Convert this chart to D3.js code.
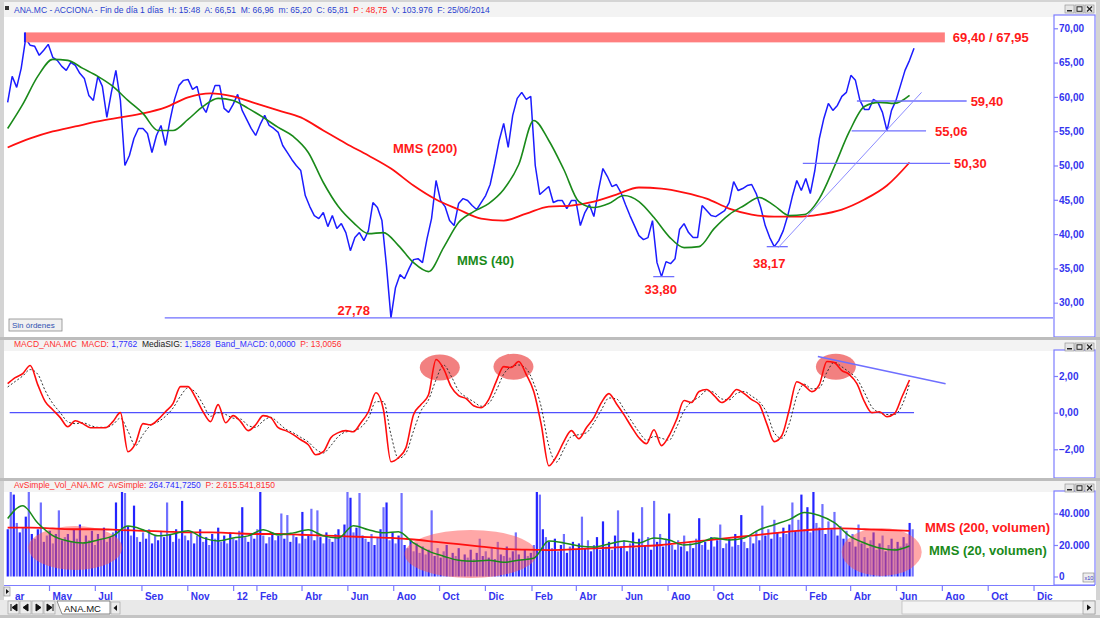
<!DOCTYPE html>
<html>
<head>
<meta charset="utf-8">
<script src="https://cdn.jsdelivr.net/npm/d3@7"></script>
<style>
    body { margin: 0; background: #d4d4d4; }
    svg { display: block; font-family: "Liberation Sans", Arial, sans-serif; }
</style>
</head>
<body>
<div id="chart"></div>
<script>

/*
 * Data read off the ANA.MC (Acciona) daily chart, Mar 2011 - Jun 2014
 * Each series starts on priceStart and steps a fixed number of calendar days
 */
var priceStart = "2011-03-07";

var priceStepDays = 6;
var priceClose = [
    59.20, 63.00, 61.39, 64.16, 68.54, 67.52, 67.37, 66.06, 66.79, 67.66,
    65.77, 65.33, 64.45, 63.87, 65.04, 64.60, 63.43, 62.70, 60.22, 59.49,
    63.00, 61.53, 57.01, 60.66, 63.87, 59.49, 50.00, 51.46, 53.94, 55.40,
    55.40, 54.67, 51.90, 54.38, 55.84, 52.92, 56.57, 59.64, 61.68, 62.41,
    62.55, 61.09, 61.53, 58.76, 57.74, 59.78, 61.68, 61.68, 58.32, 57.74,
    58.91, 60.36, 58.03, 56.72, 55.40, 54.38, 55.99, 57.30, 55.84, 55.40,
    54.82, 52.92, 51.90, 50.88, 50.00, 49.27, 45.62, 44.01, 42.70, 42.26,
    43.14, 41.09, 42.70, 40.80, 41.53, 40.22, 37.59, 39.49, 40.22, 39.05,
    40.51, 44.60, 43.87, 41.97, 35.40, 27.78, 32.19, 34.09, 33.50, 34.96,
    36.28, 36.42, 35.84, 39.34, 42.26, 47.81, 44.89, 44.01, 41.97, 41.24,
    44.45, 45.18, 44.89, 44.16, 43.58, 44.60, 45.62, 47.23, 50.29, 53.65,
    56.13, 52.63, 57.30, 59.78, 60.66, 59.64, 60.07, 50.00, 45.77, 46.35,
    46.93, 44.60, 44.89, 44.89, 43.72, 44.89, 44.89, 41.24, 43.14, 44.31,
    42.55, 46.35, 49.56, 48.39, 46.93, 47.23, 46.06, 44.31, 42.70, 41.24,
    39.78, 39.20, 39.49, 41.97, 35.84, 33.80, 35.99, 35.69, 36.42, 40.66,
    41.53, 40.22, 39.49, 39.49, 44.16, 43.43, 42.70, 42.55, 42.99, 43.43,
    44.60, 47.66, 46.35, 46.64, 47.08, 47.23, 45.91, 43.87, 41.24, 39.49,
    38.17, 39.05, 40.51, 42.70, 45.47, 47.81, 46.35, 48.10, 45.91, 49.27,
    53.94, 56.86, 59.05, 58.03, 58.76, 60.07, 60.66, 63.14, 62.41, 59.49,
    58.18, 58.18, 59.64, 59.20, 57.74, 55.06, 58.03, 59.49, 61.68, 63.87,
    65.33, 67.08
];

var mms40StepDays = 20;
var mms40 = [
    55.40, 58.91, 62.99, 65.47, 65.33, 64.16, 62.99, 61.53, 59.49, 57.59,
    55.11, 55.11, 56.72, 58.61, 59.78, 59.49, 58.32, 57.01, 55.55, 54.23,
    51.90, 47.52, 44.01, 41.68, 40.07, 40.22, 38.32, 35.84, 34.53, 38.03,
    41.68, 43.28, 44.45, 46.50, 50.15, 56.57, 53.65, 49.42, 44.74, 43.87,
    44.45, 45.62, 44.74, 42.41, 39.64, 38.03, 38.18, 40.80, 42.85, 44.16,
    45.33, 44.16, 42.70, 42.85, 45.18, 49.85, 54.96, 58.61, 59.20, 59.05,
    60.22
];

var mms200StepDays = 30;
var mms200 = [
    52.63, 53.94, 54.96, 55.69, 56.42, 57.01, 57.59, 58.47, 59.93, 60.51,
    60.07, 59.05, 58.03, 57.01, 55.11, 53.21, 51.46, 49.56, 47.08, 45.04,
    43.58, 42.26, 41.97, 42.99, 44.01, 44.16, 44.74, 45.77, 46.79, 46.64,
    46.06, 45.18, 43.72, 42.85, 42.55, 42.55, 42.85, 43.58, 45.04, 47.08,
    50.44
];

var macdStepDays = 10;
var macdLine = [
    1.58, 1.91, 2.13, 2.57, 1.53, 0.60, 0.16, -0.27, -0.77, -0.44,
    -0.60, -0.82, -0.82, -0.82, -0.49, 0.00, -2.13, -1.69, -0.60, -0.66,
    -0.38, 0.05, 0.49, 1.42, 1.42, 0.82, 0.05, -0.49, 0.44, -0.55,
    -0.16, -0.49, -0.98, -0.66, -0.16, -0.27, -0.82, -0.98, -1.20, -1.48,
    -1.75, -2.30, -2.13, -1.37, -1.09, -0.98, -1.04, -0.55, 0.05, 1.09,
    0.16, -2.68, -2.46, -1.91, -0.11, 0.44, 0.98, 2.90, 2.40, 1.42,
    0.93, 0.77, 0.38, 0.27, 0.71, 1.69, 2.51, 2.46, 2.79, 2.08,
    1.15, -0.66, -2.90, -2.40, -1.58, -0.98, -1.42, -0.82, -0.27, 0.55,
    1.04, 0.49, -0.11, -0.77, -1.37, -1.69, -0.93, -1.80, -1.26, -0.38,
    0.66, 0.55, 1.15, 1.26, 0.93, 0.55, 0.82, 1.26, 1.04, 0.71,
    0.44, -0.60, -1.58, -1.26, 0.16, 1.69, 1.48, 1.15, 1.53, 2.79,
    2.73, 2.30, 2.08, 1.58, 0.60, 0.00, 0.05, -0.22, -0.05, 0.87,
    1.78
];
var macdSignal = [
    1.40, 1.70, 2.00, 2.35, 2.10, 1.20, 0.50, 0.00, -0.50, -0.60,
    -0.55, -0.70, -0.80, -0.80, -0.65, -0.30, -1.00, -1.80, -1.20, -0.70,
    -0.50, -0.20, 0.25, 0.90, 1.35, 1.10, 0.45, -0.20, 0.00, -0.10,
    -0.30, -0.35, -0.70, -0.80, -0.45, -0.25, -0.55, -0.90, -1.10, -1.35,
    -1.60, -2.00, -2.20, -1.80, -1.30, -1.05, -1.00, -0.80, -0.30, 0.60,
    0.60, -1.20, -2.50, -2.20, -1.00, 0.10, 0.70, 1.80, 2.60, 2.00,
    1.20, 0.85, 0.60, 0.35, 0.50, 1.20, 2.10, 2.50, 2.60, 2.40,
    1.60, 0.30, -1.80, -2.70, -2.00, -1.30, -1.20, -1.10, -0.55, 0.15,
    0.80, 0.75, 0.20, -0.45, -1.05, -1.50, -1.30, -1.40, -1.50, -0.80,
    0.10, 0.60, 0.85, 1.20, 1.10, 0.75, 0.70, 1.05, 1.15, 0.90,
    0.60, 0.00, -1.10, -1.40, -0.60, 0.90, 1.55, 1.30, 1.35, 2.20,
    2.75, 2.50, 2.20, 1.85, 1.10, 0.30, 0.00, -0.10, -0.10, 0.40,
    1.58
];

// volume in thousands of shares
var volStepDays = 4;
var volume = [
    30, 56, 52, 34, 28, 31, 38, 56, 27, 24, 30, 47, 22, 26, 29, 21, 27, 42, 23, 25,
    27, 22, 30, 24, 33, 21, 26, 23, 29, 20, 27, 24, 31, 22, 25, 28, 47, 30, 55, 53,
    32, 26, 45, 25, 22, 28, 24, 30, 21, 26, 23, 29, 25, 47, 27, 22, 30, 24, 48, 26,
    23, 28, 21, 26, 30, 22, 25, 20, 27, 24, 31, 22, 26, 21, 28, 24, 23, 29, 44, 25,
    22, 27, 24, 30, 55, 26, 21, 25, 28, 23, 26, 40, 24, 39, 22, 27, 25, 21, 41, 24,
    26, 43, 23, 42, 25, 21, 28, 24, 22, 27, 30, 25, 33, 55, 50, 28, 31, 53, 26, 24,
    22, 27, 20, 25, 30, 44, 47, 23, 28, 21, 26, 53, 20, 18, 23, 16, 21, 15, 19, 14,
    17, 42, 13, 18, 12, 16, 20, 11, 15, 13, 18, 10, 14, 12, 17, 11, 15, 24, 13, 16,
    12, 18, 11, 22, 14, 13, 19, 12, 16, 28, 14, 11, 17, 13, 15, 20, 56, 52, 30, 25,
    22, 18, 24, 16, 20, 27, 15, 19, 22, 17, 21, 38, 18, 23, 16, 20, 25, 17, 35, 19,
    22, 17, 26, 42, 19, 23, 16, 21, 28, 18, 24, 44, 20, 25, 17, 48, 22, 27, 19, 24,
    40, 20, 17, 23, 19, 26, 16, 21, 18, 24, 37, 20, 22, 17, 25, 19, 23, 33, 18, 21,
    24, 19, 27, 20, 39, 22, 18, 25, 21, 29, 23, 45, 26, 30, 24, 36, 28, 25, 31, 27,
    33, 47, 29, 36, 52, 30, 44, 28, 55, 34, 31, 46, 27, 35, 30, 41, 26, 32, 24, 29,
    22, 27, 19, 33, 21, 25, 18, 23, 28, 17, 21, 26, 16, 20, 24, 18, 22, 19, 25, 21,
    34, 30
];

var volMms20StepDays = 20;
var volMms20 = [
    36.8, 45.0, 34.0, 26.0, 22.6, 21.3, 23.2, 25.8, 32.0, 29.7,
    25.8, 27.0, 29.0, 24.5, 22.6, 24.5, 25.8, 29.7, 26.5, 27.7,
    29.7, 25.8, 24.5, 32.3, 29.7, 27.7, 28.4, 21.3, 16.1, 12.9,
    10.3, 9.7, 10.3, 9.0, 10.3, 11.6, 22.6, 21.3, 19.4, 18.7,
    20.6, 22.6, 21.3, 24.5, 23.2, 20.0, 21.3, 24.5, 23.2, 24.5,
    29.7, 32.9, 36.1, 40.6, 38.7, 34.2, 25.8, 21.3, 18.1, 16.8,
    19.4
];

var volMms200StepDays = 30;
var volMms200 = [
    31.0, 31.0, 30.5, 30.0, 30.0, 29.5, 29.0, 28.5, 28.0, 28.0,
    27.5, 27.0, 27.0, 26.5, 26.0, 25.5, 25.0, 24.5, 23.5, 22.0,
    20.5, 19.0, 17.5, 17.0, 16.8, 17.2, 17.8, 18.5, 19.2, 20.0,
    21.5, 23.0, 24.5, 26.0, 27.5, 29.0, 30.0, 30.5, 30.0, 29.5,
    29.0
];

var monthTicks = [
    "2011-03-01", "2011-05-01", "2011-07-01", "2011-09-01", "2011-11-01", "2012-01-01",
    "2012-02-01", "2012-04-01", "2012-06-01", "2012-08-01", "2012-10-01", "2012-12-01",
    "2013-02-01", "2013-04-01", "2013-06-01", "2013-08-01", "2013-10-01", "2013-12-01",
    "2014-02-01", "2014-04-01", "2014-06-01", "2014-08-01", "2014-10-01", "2014-12-01"
];
var monthLabels = [
    "Mar", "May", "Jul", "Sep", "Nov", "12",
    "Feb", "Abr", "Jun", "Ago", "Oct", "Dic",
    "Feb", "Abr", "Jun", "Ago", "Oct", "Dic",
    "Feb", "Abr", "Jun", "Ago", "Oct", "Dic"
];

var priceTicks = [30, 35, 40, 45, 50, 55, 60, 65, 70];
var macdTicks = [-2, 0, 2];
var volTicks = [0, 20, 40];

// support / resistance levels drawn on the price panel
var priceLevels = [
    { value: 27.78, from: "2011-10-02", to: "2014-12-27", label: "27,78" },
    { value: 33.80, from: "2013-07-13", to: "2013-08-10", label: "33,80" },
    { value: 38.17, from: "2013-12-11", to: "2014-01-08", label: "38,17" },
    { value: 50.30, from: "2014-01-28", to: "2014-08-12", label: "50,30" },
    { value: 55.06, from: "2014-04-03", to: "2014-07-11", label: "55,06" },
    { value: 59.40, from: "2014-04-10", to: "2014-09-03", label: "59,40" }
];
var maxBand = { high: 69.40, low: 67.95, from: "2011-03-30", to: "2014-08-05", label: "69,40 / 67,95" };
var priceTrend = [{ date: "2013-12-26", value: 38.0 }, { date: "2014-07-05", value: 60.66 }];
var macdTrend = [{ date: "2014-02-17", value: 3.06 }, { date: "2014-08-06", value: 1.58 }];
var macdMarks = [
    { date: "2012-10-02", value: 2.46 },
    { date: "2013-01-08", value: 2.51 },
    { date: "2014-03-13", value: 2.51 }
];
var volMarks = [
    { date: "2011-06-05", value: 18.1, rx: 47, ry: 22 },
    { date: "2012-11-12", value: 14.3, rx: 66, ry: 24 },
    { date: "2014-05-13", value: 15.6, rx: 40, ry: 24 }
];

/*
 * Helpers
 */
var parseDate = d3.timeParse("%Y-%m-%d");

function seriesFrom(stepDays, values) {
    var t0 = parseDate(priceStart);
    return values.map(function(v, i) {
        return { date: d3.timeDay.offset(t0, i * stepDays), value: v };
    });
}

function commaNum(v) {
    return d3.format(".2f")(v).replace(".", ",");
}

var BLUE_TXT = "#3434ee";
var AXIS_BLUE = "#7d7dff";

var width = 1100, height = 618;
var plotLeft = 5, plotRight = 1053, axisLeft = 1054, axisRight = 1095;

var svg = d3.select("#chart").append("svg")
    .attr("width", width)
    .attr("height", height);

svg.append("rect")
    .attr("width", width)
    .attr("height", height)
    .attr("fill", "#d4d4d4");

// shared time scale (all three panels use the same x)
var x = d3.scaleTime()
    .domain([new Date(2011, 4, 1), new Date(2014, 5, 1)])
    .range([49, 896]);

var yPrice = d3.scaleLinear().domain([30, 70]).range([302.7, 28.3]);
var yMacd = d3.scaleLinear().domain([-2, 2]).range([449.3, 376]);
var yVol = d3.scaleLinear().domain([0, 40]).range([576.5, 513.5]);

/*
 * Panel frames (white area, header strip, clip, axis box, window buttons)
 */
function makePanel(name, top, headerBottom, bottom, boxTop) {
    svg.append("rect")
        .attr("x", 4).attr("y", top)
        .attr("width", 1092).attr("height", bottom - top)
        .attr("fill", "#ffffff");

    svg.append("rect")
        .attr("x", 4).attr("y", top)
        .attr("width", 1092).attr("height", headerBottom - top)
        .attr("fill", "#f3f3f3");

    svg.append("clipPath").attr("id", "clip-" + name)
        .append("rect")
        .attr("x", plotLeft).attr("y", headerBottom)
        .attr("width", plotRight - plotLeft).attr("height", bottom - headerBottom);

    svg.append("rect")
        .attr("x", axisLeft).attr("y", boxTop)
        .attr("width", axisRight - axisLeft).attr("height", bottom - boxTop)
        .attr("fill", "#ffffff")
        .attr("stroke", AXIS_BLUE)
        .attr("stroke-width", 1.2);

    // minimise / maximise / close
    var btn = svg.append("g").attr("transform", "translate(1065," + (top + 3) + ")");
    ["min", "max", "close"].forEach(function(kind, i) {
        var b = btn.append("g").attr("transform", "translate(" + (i * 10) + ",0)");
        b.append("rect").attr("width", 9).attr("height", 8)
            .attr("fill", "#e6e6e6").attr("stroke", "#8a8a8a").attr("stroke-width", 0.6);
        if (kind === "min") {
            b.append("rect").attr("x", 2).attr("y", 5).attr("width", 5).attr("height", 1.5).attr("fill", "#222");
        } else if (kind === "max") {
            b.append("rect").attr("x", 2).attr("y", 1.8).attr("width", 5).attr("height", 4.5)
                .attr("fill", "none").attr("stroke", "#222").attr("stroke-width", 1);
        } else {
            b.append("path").attr("d", "M2,1.5L7,6.5M7,1.5L2,6.5").attr("stroke", "#222").attr("stroke-width", 1.3);
        }
    });

    return svg.append("g").attr("clip-path", "url(#clip-" + name + ")");
}

function header(y, parts) {
    var t = svg.append("text")
        .attr("x", 14).attr("y", y)
        .attr("font-size", "8.5px")
        .style("white-space", "pre");
    parts.forEach(function(p) {
        t.append("tspan").attr("fill", p[1]).text(p[0]);
    });
}

function yAxisRight(scale, ticks, fmt) {
    var g = svg.append("g")
        .attr("class", "y-axis axis")
        .attr("transform", "translate(" + axisLeft + ",0)")
        .call(d3.axisRight(scale).tickValues(ticks).tickSize(4).tickFormat(fmt));
    g.select(".domain").remove();
    g.selectAll(".tick line").attr("stroke", AXIS_BLUE).attr("stroke-width", 1.2);
    g.selectAll(".tick text")
        .attr("x", 5)
        .attr("fill", BLUE_TXT)
        .attr("font-size", "10px")
        .attr("font-weight", "bold")
        .attr("font-family", "Liberation Sans, Arial, sans-serif");
    return g;
}

function redLabel(text, px, py, anchor, color) {
    svg.append("text")
        .attr("x", px).attr("y", py)
        .attr("text-anchor", anchor || "start")
        .attr("fill", color || "#ff1a1a")
        .attr("font-size", "13px")
        .attr("font-weight", "bold")
        .text(text);
}

/*
 * PRICE PANEL
 */
var pricePlot = makePanel("price", 2, 17, 337, 15);
header(13, [
    ["ANA.MC - ACCIONA - Fin de día 1 días  H: 15:48  A: 66,51  M: 66,96  m: 65,20  C: 65,81  ", "#2a3fcf"],
    ["P : 48,75", "#ff2020"],
    ["  V: 103.976  F: 25/06/2014", "#2a3fcf"]
]);
svg.append("rect").attr("x", 5).attr("y", 6).attr("width", 4).attr("height", 4).attr("fill", "#333");

var priceData = seriesFrom(priceStepDays, priceClose);
var mms40Data = seriesFrom(mms40StepDays, mms40);
var mms200Data = seriesFrom(mms200StepDays, mms200);

var smooth = d3.line()
    .x(function(d) { return x(d.date); })
    .y(function(d) { return yPrice(d.value); })
    .curve(d3.curveMonotoneX);

pricePlot.append("path")
    .datum(priceData)
    .attr("fill", "none")
    .attr("stroke", "#1c1cff")
    .attr("stroke-width", 1.5)
    .attr("stroke-linejoin", "bevel")
    .attr("d", d3.line()
        .x(function(d) { return x(d.date); })
        .y(function(d) { return yPrice(d.value); }));

pricePlot.append("path")
    .datum(mms200Data)
    .attr("fill", "none")
    .attr("stroke", "#ff1010")
    .attr("stroke-width", 1.8)
    .attr("d", smooth);

pricePlot.append("path")
    .datum(mms40Data)
    .attr("fill", "none")
    .attr("stroke", "#1a8a1a")
    .attr("stroke-width", 1.6)
    .attr("d", smooth);

// max band
pricePlot.append("rect")
    .attr("x", x(parseDate(maxBand.from)))
    .attr("y", yPrice(maxBand.high))
    .attr("width", x(parseDate(maxBand.to)) - x(parseDate(maxBand.from)))
    .attr("height", yPrice(maxBand.low) - yPrice(maxBand.high))
    .attr("fill", "#ff7f7f");
pricePlot.append("rect")
    .attr("x", x(parseDate(maxBand.from)) - 1)
    .attr("y", yPrice(maxBand.high))
    .attr("width", 2)
    .attr("height", yPrice(maxBand.low) - yPrice(maxBand.high))
    .attr("fill", "#1c1cff");

// levels
pricePlot.selectAll(".level")
    .data(priceLevels)
    .enter().append("line")
    .attr("class", "level")
    .attr("x1", function(d) { return x(parseDate(d.from)); })
    .attr("x2", function(d) { return x(parseDate(d.to)); })
    .attr("y1", function(d) { return yPrice(d.value); })
    .attr("y2", function(d) { return yPrice(d.value); })
    .attr("stroke", "#6f6fff")
    .attr("stroke-width", 1.3);

pricePlot.append("line")
    .attr("x1", x(parseDate(priceTrend[0].date)))
    .attr("y1", yPrice(priceTrend[0].value))
    .attr("x2", x(parseDate(priceTrend[1].date)))
    .attr("y2", yPrice(priceTrend[1].value))
    .attr("stroke", "#8c8cff")
    .attr("stroke-width", 1);

// level labels
priceLevels.forEach(function(d) {
    var x1 = x(parseDate(d.from)), x2 = x(parseDate(d.to)), yy = yPrice(d.value);
    if (d.value < 30) {
        redLabel(d.label, 370, yy - 3, "end");
    } else if (d.value < 35) {
        redLabel(d.label, (x1 + x2) / 2 - 3, yy + 17, "middle");
    } else if (d.value < 40) {
        redLabel(d.label, (x1 + x2) / 2 - 8, yy + 21, "middle");
    } else {
        redLabel(d.label, x2 + (d.value > 55 && d.value < 56 ? 9 : 4), yy + 5, "start");
    }
});
redLabel(maxBand.label, x(parseDate(maxBand.to)) + 8, (yPrice(maxBand.high) + yPrice(maxBand.low)) / 2 + 4.5);
redLabel("MMS (200)", 393, 153);
redLabel("MMS (40)", 457, 265, "start", "#1a8a1a");

// "Sin órdenes" button
svg.append("rect").attr("x", 9).attr("y", 319).attr("width", 53).attr("height", 12)
    .attr("fill", "#f0f0f0").attr("stroke", "#8a8a8a").attr("stroke-width", 0.8);
svg.append("text").attr("x", 12).attr("y", 328).attr("font-size", "8px").attr("fill", "#3050b0")
    .text("Sin órdenes");

yAxisRight(yPrice, priceTicks, commaNum);

/*
 * MACD PANEL
 */
svg.append("rect").attr("x", 0).attr("y", 337).attr("width", width).attr("height", 3).attr("fill", "#bdbdbd");
var macdPlot = makePanel("macd", 340, 351, 478, 350);
header(347, [
    ["MACD_ANA.MC  MACD: ", "#ff3030"],
    ["1,7762", "#3030ff"],
    ["  MediaSIG: ", "#202020"],
    ["1,5828", "#3030ff"],
    ["  Band_MACD: 0,0000", "#3030ff"],
    ["  P: 13,0056", "#ff3030"]
]);

var macdData = seriesFrom(macdStepDays, macdLine);
var signalData = seriesFrom(macdStepDays, macdSignal);

macdPlot.selectAll(".mark")
    .data(macdMarks)
    .enter().append("ellipse")
    .attr("class", "mark")
    .attr("cx", function(d) { return x(parseDate(d.date)); })
    .attr("cy", function(d) { return yMacd(d.value); })
    .attr("rx", 20)
    .attr("ry", 13)
    .attr("fill", "#f06a6a")
    .attr("opacity", 0.85);

macdPlot.append("line")
    .attr("x1", x(priceData[0].date) + 2)
    .attr("x2", x(priceData[priceData.length - 1].date))
    .attr("y1", yMacd(0)).attr("y2", yMacd(0))
    .attr("stroke", "#5050ff")
    .attr("stroke-width", 1.3);

var macdPath = d3.line()
    .x(function(d) { return x(d.date); })
    .y(function(d) { return yMacd(d.value); })
    .curve(d3.curveMonotoneX);

macdPlot.append("path")
    .datum(signalData)
    .attr("fill", "none")
    .attr("stroke", "#333")
    .attr("stroke-width", 1)
    .attr("stroke-dasharray", "2,2")
    .attr("d", macdPath);

macdPlot.append("path")
    .datum(macdData)
    .attr("fill", "none")
    .attr("stroke", "#ff0d0d")
    .attr("stroke-width", 1.6)
    .attr("d", macdPath);

macdPlot.append("line")
    .attr("x1", x(parseDate(macdTrend[0].date)))
    .attr("y1", yMacd(macdTrend[0].value))
    .attr("x2", x(parseDate(macdTrend[1].date)))
    .attr("y2", yMacd(macdTrend[1].value))
    .attr("stroke", "#6f6fff")
    .attr("stroke-width", 1.5);

yAxisRight(yMacd, macdTicks, commaNum);

/*
 * VOLUME PANEL
 */
svg.append("rect").attr("x", 0).attr("y", 478).attr("width", width).attr("height", 3).attr("fill", "#bdbdbd");
var volPlot = makePanel("vol", 481, 492, 585, 491);
header(488, [
    ["AvSimple_Vol_ANA.MC  AvSimple: ", "#ff3030"],
    ["264.741,7250", "#3030ff"],
    ["  P: 2.615.541,8150", "#ff3030"]
]);

var volData = seriesFrom(volStepDays, volume);

volPlot.selectAll(".bar")
    .data(volData)
    .enter().append("rect")
    .attr("class", "bar")
    .attr("x", function(d) { return x(d.date) - 1; })
    .attr("y", function(d) { return yVol(d.value); })
    .attr("width", 2.2)
    .attr("height", function(d) { return yVol(0) - yVol(d.value); })
    .attr("fill", function(d, i) { return i % 2 ? "#7070ff" : "#2424ff"; });

volPlot.selectAll(".vmark")
    .data(volMarks)
    .enter().append("ellipse")
    .attr("class", "vmark")
    .attr("cx", function(d) { return x(parseDate(d.date)); })
    .attr("cy", function(d) { return yVol(d.value); })
    .attr("rx", function(d) { return d.rx; })
    .attr("ry", function(d) { return d.ry; })
    .attr("fill", "#ff5050")
    .attr("opacity", 0.5);

var volPath = d3.line()
    .x(function(d) { return x(d.date); })
    .y(function(d) { return yVol(d.value); })
    .curve(d3.curveMonotoneX);

volPlot.append("path")
    .datum(seriesFrom(volMms200StepDays, volMms200))
    .attr("fill", "none")
    .attr("stroke", "#ff1010")
    .attr("stroke-width", 1.8)
    .attr("d", volPath);

volPlot.append("path")
    .datum(seriesFrom(volMms20StepDays, volMms20))
    .attr("fill", "none")
    .attr("stroke", "#1a8a1a")
    .attr("stroke-width", 1.5)
    .attr("d", volPath);

redLabel("MMS (200, volumen)", 925, 532);
redLabel("MMS (20, volumen)", 929, 555, "start", "#1a8a1a");

yAxisRight(yVol, volTicks, function(v) {
    return d3.format(",")(v * 1000).replace(/,/g, ".");
});

svg.append("rect").attr("x", 1083).attr("y", 573).attr("width", 11).attr("height", 9)
    .attr("fill", "#eeeeee").attr("stroke", "#7a7a7a").attr("stroke-width", 0.6);
svg.append("text").attr("x", 1084.5).attr("y", 580).attr("font-size", "5.5px").attr("fill", "#3030c0").text("x10");

/*
 * X AXIS
 */
svg.append("rect").attr("x", 4).attr("y", 585).attr("width", 1092).attr("height", 15).attr("fill", "#ffffff");
svg.append("line")
    .attr("x1", 4).attr("x2", axisRight)
    .attr("y1", 585.5).attr("y2", 585.5)
    .attr("stroke", AXIS_BLUE)
    .attr("stroke-width", 1.2);

svg.append("clipPath").attr("id", "clip-xaxis")
    .append("rect")
    .attr("x", 15).attr("y", 580)
    .attr("width", 1083).attr("height", 22);

var xAxis = d3.axisBottom(x)
    .tickValues(monthTicks.map(parseDate))
    .tickFormat(function(d, i) { return monthLabels[i]; })
    .tickSize(6)
    .tickSizeOuter(0);

var gx = svg.append("g")
    .attr("clip-path", "url(#clip-xaxis)")
    .append("g")
    .attr("class", "x-axis axis")
    .attr("transform", "translate(0,585)")
    .call(xAxis);
gx.select(".domain").remove();
gx.selectAll(".tick line").attr("stroke", AXIS_BLUE).attr("stroke-width", 1.2);
gx.selectAll(".tick text")
    .attr("text-anchor", "start")
    .attr("x", 3)
    .attr("y", 8)
    .attr("fill", BLUE_TXT)
    .attr("font-size", "10px")
    .attr("font-weight", "bold")
    .attr("font-family", "Liberation Sans, Arial, sans-serif");

// left scroll arrow on the time axis
svg.append("rect").attr("x", 4).attr("y", 587).attr("width", 6).attr("height", 9)
    .attr("fill", "#e8e8e8").attr("stroke", "#888").attr("stroke-width", 0.6);
svg.append("path").attr("d", "M6,589L9,591.5L6,594Z").attr("fill", "#111");

/*
 * Bottom tab strip
 */
svg.append("rect").attr("x", 0).attr("y", 600).attr("width", width).attr("height", 18).attr("fill", "#e9e9e9");
svg.append("rect").attr("x", 0).attr("y", 615).attr("width", width).attr("height", 3).attr("fill", "#c4c4c4");

var navGlyphs = ["M3,3L3,10M9,3L4,6.5L9,10Z", "M8,3L3,6.5L8,10Z", "M4,3L9,6.5L4,10Z", "M3,3L8,6.5L3,10ZM9,3L9,10"];
navGlyphs.forEach(function(p, i) {
    var g = svg.append("g").attr("transform", "translate(" + (8 + i * 12) + ",601)");
    g.append("rect").attr("width", 11).attr("height", 13)
        .attr("fill", "#ececec").attr("stroke", "#9a9a9a").attr("stroke-width", 0.6);
    g.append("path").attr("d", p).attr("fill", "#111").attr("stroke", "#111").attr("stroke-width", 1);
});

svg.append("path")
    .attr("d", "M57,601L62,614L110,614L110,601Z")
    .attr("fill", "#ffffff")
    .attr("stroke", "#6a6a6a")
    .attr("stroke-width", 0.8);
svg.append("text").attr("x", 64).attr("y", 611.5).attr("font-size", "9.5px").attr("fill", "#111").text("ANA.MC");
svg.append("rect").attr("x", 111).attr("y", 602).attr("width", 9).attr("height", 12)
    .attr("fill", "#ececec").attr("stroke", "#9a9a9a").attr("stroke-width", 0.6);
svg.append("path").attr("d", "M117,605L113.5,608L117,611Z").attr("fill", "#111");

// horizontal scrollbar
svg.append("rect").attr("x", 902).attr("y", 601).attr("width", 193).attr("height", 13)
    .attr("fill", "#f4f4f4").attr("stroke", "#b0b0b0").attr("stroke-width", 0.6);
svg.append("rect").attr("x", 1083).attr("y", 601).attr("width", 12).attr("height", 13)
    .attr("fill", "#ececec").attr("stroke", "#8a8a8a").attr("stroke-width", 0.6);
svg.append("path").attr("d", "M1087,604.5L1091,607.5L1087,610.5Z").attr("fill", "#111");

</script>
</body>
</html>
